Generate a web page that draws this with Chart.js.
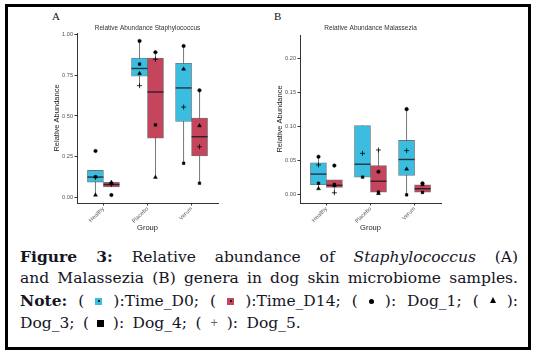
<!DOCTYPE html>
<html><head><meta charset="utf-8">
<script src="https://cdn.jsdelivr.net/npm/chart.js@4.4.1/dist/chart.umd.min.js"></script>
<style>
html,body{margin:0;padding:0;background:#fff;}
body{width:538px;height:357px;position:relative;overflow:hidden;}
#frame{position:absolute;left:5px;top:4px;width:526px;height:346px;border:3px solid #000;box-sizing:border-box;}
canvas.panel{position:absolute;top:15px;}
#pa{left:40px;}
#pb{left:263px;}
.lbl{position:absolute;font-family:"Liberation Serif",serif;font-size:11px;line-height:11px;color:#111;}
#cap{position:absolute;left:20px;width:498px;top:245.5px;font-family:"DejaVu Serif",serif;font-size:15.5px;line-height:21.5px;color:#15151f;}
#cap div{white-space:nowrap;}
.j{text-align:justify;text-align-last:justify;}
.last{word-spacing:3.5px;}
.ic{display:inline-block;width:7px;height:7px;vertical-align:1px;position:relative;}
.ic::after{content:"";position:absolute;left:2.5px;top:2.5px;width:2px;height:2px;background:#222;}
.c0{background:#3bbde0;}
.c1{background:#c4455c;}
.dot{display:inline-block;width:5px;height:5px;border-radius:50%;background:#000;vertical-align:2px;}
.tri{display:inline-block;width:0;height:0;border-left:3px solid transparent;border-right:3px solid transparent;border-bottom:6px solid #000;vertical-align:3px;}
.sq{display:inline-block;width:7px;height:7px;background:#000;vertical-align:1px;}
.pl{font-family:"DejaVu Sans",sans-serif;font-size:10px;color:#666;vertical-align:2px;}
</style></head>
<body>
<div id="frame"></div>
<div class="lbl" style="left:52px;top:11px;">A</div>
<div class="lbl" style="left:274px;top:11px;">B</div>
<canvas id="pa" class="panel" width="185" height="225"></canvas>
<canvas id="pb" class="panel" width="185" height="225"></canvas>
<div id="cap">
<div class="j"><b>Figure 3:</b> Relative abundance of <i>Staphylococcus</i> (A)</div>
<div class="j">and Malassezia (B) genera in dog skin microbiome samples.</div>
<div class="j"><b>Note:</b> ( <span class="ic c0"></span> ):Time_D0; ( <span class="ic c1"></span> ):Time_D14; ( <span class="dot"></span> ): Dog_1; ( <span class="tri"></span> ):</div>
<div class="last">Dog_3; ( <span class="sq"></span> ): Dog_4; ( <span class="pl">+</span> ): Dog_5.</div>
</div>
<script>
// ---------- data ----------
const groups = ['Healthy', 'Placebo', 'Verum'];
const times = ['Time_D0', 'Time_D14'];
const dogs = ['Dog_1', 'Dog_3', 'Dog_4', 'Dog_5'];

// Panel A: Staphylococcus, box statistics per group
const staphD0Q1  = [0.092, 0.745, 0.466];
const staphD0Med = [0.123, 0.793, 0.673];
const staphD0Q3  = [0.164, 0.858, 0.825];
const staphD0Lo  = [0.012, 0.687, 0.208];
const staphD0Hi  = [0.164, 0.963, 0.932];
const staphD14Q1  = [0.062, 0.363, 0.253];
const staphD14Med = [0.077, 0.648, 0.372];
const staphD14Q3  = [0.090, 0.858, 0.487];
const staphD14Lo  = [0.062, 0.121, 0.085];
const staphD14Hi  = [0.090, 0.893, 0.658];
// Panel A: individual dogs [Healthy, Placebo, Verum]
const staphDog1D0  = [0.284, 0.963, 0.932];
const staphDog3D0  = [0.012, 0.762, 0.790];
const staphDog4D0  = [0.125, 0.820, 0.208];
const staphDog5D0  = [0.120, 0.687, 0.555];
const staphDog1D14 = [0.012, 0.893, 0.658];
const staphDog3D14 = [0.090, 0.121, 0.440];
const staphDog4D14 = [0.083, 0.445, 0.085];
const staphDog5D14 = [0.078, 0.850, 0.310];
const staphTicks = [0, 0.25, 0.5, 0.75, 1.0];

// Panel B: Malassezia, box statistics per group
const malaD0Q1  = [0.015, 0.026, 0.0285];
const malaD0Med = [0.0305, 0.045, 0.052];
const malaD0Q3  = [0.047, 0.102, 0.080];
const malaD0Lo  = [0.009, 0.026, 0.000];
const malaD0Hi  = [0.056, 0.102, 0.126];
const malaD14Q1  = [0.011, 0.004, 0.004];
const malaD14Med = [0.014, 0.020, 0.009];
const malaD14Q3  = [0.022, 0.043, 0.0147];
const malaD14Lo  = [0.003, 0.002, 0.0035];
const malaD14Hi  = [0.022, 0.066, 0.017];
// Panel B: individual dogs [Healthy, Placebo, Verum]
const malaDog1D0  = [0.056, null, 0.126];
const malaDog3D0  = [0.009, null, 0.038];
const malaDog4D0  = [0.017, 0.026, 0.000];
const malaDog5D0  = [0.044, 0.061, 0.065];
const malaDog1D14 = [0.043, 0.034, 0.017];
const malaDog3D14 = [0.0137, 0.002, 0.015];
const malaDog4D14 = [0.0153, 0.004, 0.0035];
const malaDog5D14 = [0.003, 0.066, null];
const malaTicks = [0, 0.05, 0.10, 0.15, 0.20];

// ---------- styling ----------
const SANS = '"Liberation Sans", Arial, sans-serif';
const fillColors = ['#3bbde0', '#c4455c'];
const dogStyles = {
  Dog_1: {pointStyle: 'circle', radius: 1.8},
  Dog_3: {pointStyle: 'triangle', radius: 2.3},
  Dog_4: {pointStyle: 'rect', radius: 1.9},
  Dog_5: {pointStyle: 'cross', radius: 2.5}
};
const DODGE = 0.18;

const boxPlugin = {
  id: 'boxstats',
  beforeDatasetsDraw(chart) {
    const ys = chart.scales.y, ctx = chart.ctx;
    chart.data.datasets.forEach((ds, di) => {
      if (!ds.whiskerLo) return;
      const meta = chart.getDatasetMeta(di);
      meta.data.forEach((bar, i) => {
        ctx.save();
        ctx.strokeStyle = '#555';
        ctx.lineWidth = 0.8;
        ctx.beginPath();
        ctx.moveTo(bar.x, ys.getPixelForValue(ds.whiskerLo[i]));
        ctx.lineTo(bar.x, ys.getPixelForValue(ds.whiskerHi[i]));
        ctx.stroke();
        ctx.restore();
      });
    });
  },
  afterDatasetDraw(chart, args) {
    const ds = chart.data.datasets[args.index];
    if (!ds.medians) return;
    const ys = chart.scales.y, ctx = chart.ctx;
    args.meta.data.forEach((bar, i) => {
      const y = ys.getPixelForValue(ds.medians[i]);
      ctx.save();
      ctx.strokeStyle = 'rgba(20,20,30,0.8)';
      ctx.lineWidth = 1.4;
      ctx.beginPath();
      ctx.moveTo(bar.x - bar.width / 2, y);
      ctx.lineTo(bar.x + bar.width / 2, y);
      ctx.stroke();
      ctx.restore();
    });
  }
};

function makeChart(id, title, yMin, yMax, yTicks, boxes, dogVals, titlePad) {
  const datasets = [];
  boxes.forEach((b, t) => {
    datasets.push({
      type: 'bar',
      label: times[t],
      data: groups.map((g, i) => ({x: i + 1, y: [b.q1[i], b.q3[i]]})),
      medians: b.med, whiskerLo: b.lo, whiskerHi: b.hi,
      backgroundColor: fillColors[t],
      borderColor: 'rgba(60,70,75,0.75)',
      borderWidth: 0.8,
      borderSkipped: false,
      barThickness: 16,
      grouped: true,
      order: 1
    });
  });
  dogs.forEach(d => {
    const pts = [];
    dogVals[d].forEach((vals, t) => {
      vals.forEach((v, i) => {
        if (v !== null) pts.push({x: i + 1 + (t === 0 ? -DODGE : DODGE), y: v});
      });
    });
    datasets.push({
      type: 'scatter',
      label: d,
      data: pts,
      pointStyle: dogStyles[d].pointStyle,
      pointRadius: dogStyles[d].radius,
      backgroundColor: '#000',
      borderColor: '#000',
      borderWidth: d === 'Dog_5' ? 0.8 : 0.4,
      order: 0
    });
  });
  const tickFont = {family: SANS, size: 5.6};
  const titleFont = {family: SANS, size: 7.5};
  return new Chart(document.getElementById(id), {
    type: 'bar',
    data: {datasets},
    plugins: [boxPlugin],
    options: {
      responsive: false, animation: false, devicePixelRatio: 1,
      layout: {padding: {left: 0, right: 7, top: 0, bottom: 0}},
      plugins: {
        legend: {display: false}, tooltip: {enabled: false},
        title: {display: true, text: title, fullSize: false, color: '#333',
          font: {family: SANS, size: 6.5, weight: 'normal'}, padding: titlePad}
      },
      scales: {
        x: {
          type: 'linear', min: 0.4, max: 3.6, offset: false,
          afterBuildTicks: s => { s.ticks = groups.map((g, i) => ({value: i + 1})); },
          afterFit: s => { s.height = 37; },
          ticks: {callback: v => groups[Math.round(v) - 1], maxRotation: 45, minRotation: 45,
            autoSkip: false, font: tickFont, color: '#555', padding: 0},
          grid: {drawOnChartArea: false, drawTicks: true, tickLength: 2.5, color: '#333', offset: false},
          border: {color: '#333', width: 1},
          title: {display: true, text: 'Group', font: titleFont, color: '#222', padding: {top: 0, bottom: 7.8}}
        },
        y: {
          min: yMin, max: yMax,
          afterBuildTicks: s => { s.ticks = yTicks.map(v => ({value: v})); },
          afterFit: s => { s.width = 37; },
          ticks: {callback: v => Number(v).toFixed(2), font: tickFont, color: '#555', padding: 1.5},
          grid: {drawOnChartArea: false, drawTicks: true, tickLength: 2.5, color: '#333'},
          border: {color: '#333', width: 1},
          title: {display: true, text: 'Relative Abundance', font: titleFont, color: '#222', padding: {top: 12.5}}
        }
      }
    }
  });
}

makeChart('pa', 'Relative Abundance Staphylococcus', -0.037, 1.012, staphTicks,
  [{q1: staphD0Q1, med: staphD0Med, q3: staphD0Q3, lo: staphD0Lo, hi: staphD0Hi},
   {q1: staphD14Q1, med: staphD14Med, q3: staphD14Q3, lo: staphD14Lo, hi: staphD14Hi}],
  {Dog_1: [staphDog1D0, staphDog1D14], Dog_3: [staphDog3D0, staphDog3D14],
   Dog_4: [staphDog4D0, staphDog4D14], Dog_5: [staphDog5D0, staphDog5D14]},
  {top: 9.1, bottom: 1.1});

makeChart('pb', 'Relative Abundance Malassezia', -0.012, 0.235, malaTicks,
  [{q1: malaD0Q1, med: malaD0Med, q3: malaD0Q3, lo: malaD0Lo, hi: malaD0Hi},
   {q1: malaD14Q1, med: malaD14Med, q3: malaD14Q3, lo: malaD14Lo, hi: malaD14Hi}],
  {Dog_1: [malaDog1D0, malaDog1D14], Dog_3: [malaDog3D0, malaDog3D14],
   Dog_4: [malaDog4D0, malaDog4D14], Dog_5: [malaDog5D0, malaDog5D14]},
  {top: 9.4, bottom: 2.8});
</script>
</body></html>
